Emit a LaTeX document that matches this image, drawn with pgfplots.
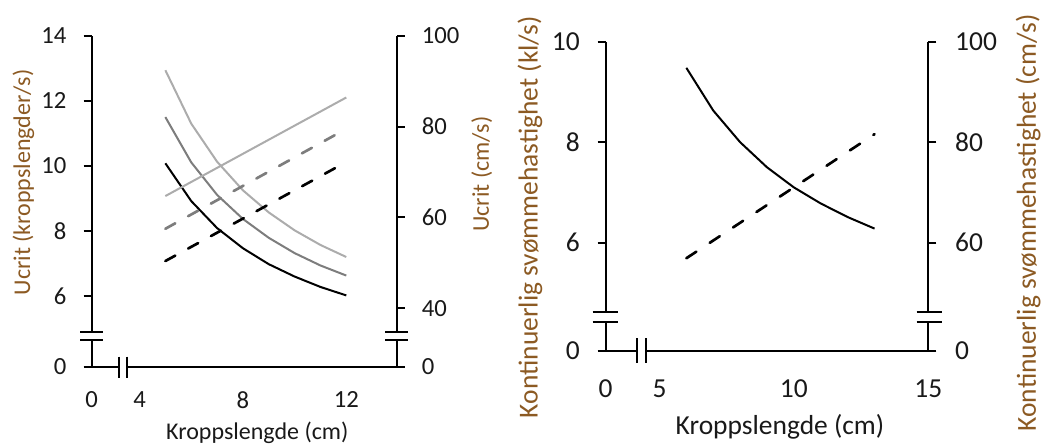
\documentclass[border=0pt]{standalone}
\usepackage{pgfplots}
\pgfplotsset{compat=1.18}
\usepackage{fontspec}
\setmainfont{Carlito}
\definecolor{lg}{RGB}{172,172,172}
\definecolor{mg}{RGB}{125,125,125}
\definecolor{tk}{RGB}{25,25,25}
\definecolor{tt}{RGB}{140,90,35}
\pgfplotsset{
  common/.style={
    scale only axis, anchor=south west, clip=false,
    /pgf/number format/assume math mode=true,
    axis line style={line width=1.5pt, black},
    tick align=outside, major tick length=6pt,
    every tick/.style={line width=1.5pt, black},
    xtick style={draw=none},
    every tick label/.append style={text=tk, inner sep=0pt},
  },
  p1/.style={common, at={(68.775pt,59.475pt)}, width=228.75pt, height=248.25pt,
    xmin=2.15, xmax=13.95,
    every tick label/.append style={font=\fontsize{18.5}{20}\selectfont}},
  p2/.style={common, at={(454.275pt,71.475pt)}, width=241.95pt, height=231.75pt,
    xmin=3, xmax=15,
    every tick label/.append style={font=\fontsize{20.6}{22}\selectfont}},
}
\begin{document}
\begin{tikzpicture}
\path[use as bounding box] (0,0) rectangle (788.25pt,334.5pt);
% ---------- Panel 1, left axis ----------
\begin{axis}[p1, ymin=3.83, ymax=14,
  axis x line*=bottom, axis y line*=left,
  yticklabel style={xshift=-12.75pt}, xticklabel style={yshift=-12.75pt},
  xtick={2.15,4,8,12}, xticklabels={0,4,8,12},
  ytick={3.83,6,8,10,12,14}, yticklabels={0,6,8,10,12,14}]
\addplot[black, line width=1.5pt] coordinates {(5,10.08)(6,8.92)(7,8.09)(8,7.47)(9,6.98)(10,6.60)(11,6.28)(12,6.02)};
\addplot[mg, line width=1.5pt] coordinates {(5,11.50)(6,10.11)(7,9.11)(8,8.37)(9,7.79)(10,7.32)(11,6.94)(12,6.63)};
\addplot[lg, line width=1.5pt] coordinates {(5,12.94)(6,11.30)(7,10.13)(8,9.25)(9,8.57)(10,8.02)(11,7.57)(12,7.20)};
\end{axis}
% ---------- Panel 1, right axis ----------
\begin{axis}[p1, ymin=27.14, ymax=100,
  axis x line=none, axis y line*=right,
  yticklabel style={xshift=12.75pt},
  ytick={27.14,40,60,80,100}, yticklabels={0,40,60,80,100}]
\addplot[black, line width=2pt, line cap=round, dash pattern=on 8.5pt off 11pt] coordinates {(5,50.4)(12,72.2)};
\addplot[mg, line width=2pt, line cap=round, dash pattern=on 8.5pt off 11pt] coordinates {(5,57.5)(12,79.5)};
\addplot[lg, line width=1.5pt] coordinates {(5,64.7)(12,86.4)};
\end{axis}
% ---------- Panel 2, left axis ----------
\begin{axis}[p2, ymin=3.85, ymax=10,
  axis x line*=bottom, axis y line*=left,
  yticklabel style={xshift=-13.3pt}, xticklabel style={yshift=-15.5pt},
  xtick={3,5,10,15}, xticklabels={0,5,10,15},
  ytick={3.85,6,8,10}, yticklabels={0,6,8,10}]
\addplot[black, line width=1.5pt] coordinates {(6,9.48)(7,8.63)(8,8.00)(9,7.50)(10,7.10)(11,6.78)(12,6.51)(13,6.28)};
\end{axis}
% ---------- Panel 2, right axis ----------
\begin{axis}[p2, ymin=38.5, ymax=100,
  axis x line=none, axis y line*=right,
  yticklabel style={xshift=14pt},
  ytick={38.5,60,80,100}, yticklabels={0,60,80,100}]
\addplot[black, line width=2pt, line cap=round, dash pattern=on 9pt off 12pt] coordinates {(6,56.9)(13,81.6)};
\end{axis}
% ---------- decorations in pixel units ----------
\begin{scope}[shift={(0pt,334.5pt)}, x=0.75pt, y=-0.75pt]
  \tikzset{brk/.style={line width=1.5pt, black}}
  % panel 1 breaks
  \fill[white] (86,332.6) rectangle (98,339.1);
  \draw[brk] (80,331.7)--(103,331.7) (80,340)--(103,340);
  \fill[white] (391,332.6) rectangle (402,339.1);
  \draw[brk] (385,331.7)--(408.3,331.7) (385,340)--(408.3,340);
  \fill[white] (120.2,362) rectangle (125.8,371);
  \draw[brk] (119.3,356.7)--(119.3,378.3) (126.7,356.7)--(126.7,378.3);
  % panel 2 breaks
  \fill[white] (600,313.2) rectangle (611,320.8);
  \draw[brk] (592.7,312.3)--(618.3,312.3) (592.7,321.7)--(618.3,321.7);
  \fill[white] (923,313.2) rectangle (934,320.8);
  \draw[brk] (916.7,312.3)--(941.7,312.3) (916.7,321.7)--(941.7,321.7);
  \fill[white] (637.6,345) rectangle (645.1,356);
  \draw[brk] (636.7,338.3)--(636.7,363.3) (646,338.3)--(646,363.3);
  % titles
  \node[rotate=90, text=tt, font=\fontsize{18}{20}\selectfont] at (23.3,182.5) {Ucrit (kroppslengder/s)};
  \node[rotate=90, text=tt, font=\fontsize{18}{20}\selectfont] at (481.7,174.2) {Ucrit (cm/s)};
  \node[text=tk, font=\fontsize{18}{20}\selectfont] at (257.3,433) {Kroppslengde (cm)};
  \node[rotate=90, text=tt, font=\fontsize{20.6}{22}\selectfont] at (530,217) {Kontinuerlig svømmehastighet (kl/s)};
  \node[rotate=90, text=tt, font=\fontsize{20.6}{22}\selectfont] at (1028.3,223) {Kontinuerlig svømmehastighet (cm/s)};
  \node[text=tk, font=\fontsize{20.6}{22}\selectfont] at (780,426.7) {Kroppslengde (cm)};
\end{scope}
\end{tikzpicture}
\end{document}
